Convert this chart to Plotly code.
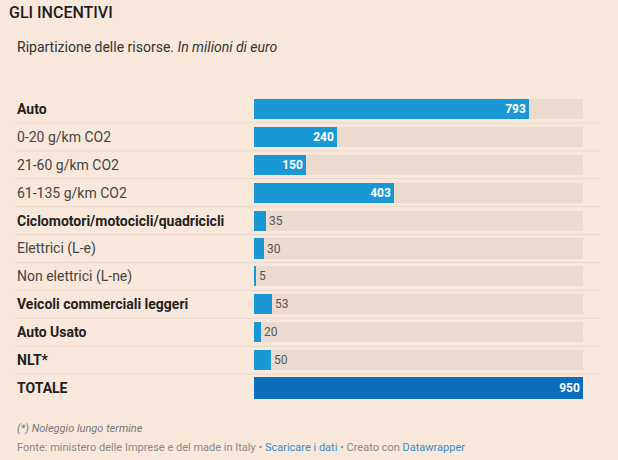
import plotly.graph_objects as go

categories = ["Auto", "0-20 g/km CO2", "21-60 g/km CO2", "61-135 g/km CO2",
              "Ciclomotori/motocicli/quadricicli", "Elettrici (L-e)", "Non elettrici (L-ne)",
              "Veicoli commerciali leggeri", "Auto Usato", "NLT*", "TOTALE"]
values = [793, 240, 150, 403, 35, 30, 5, 53, 20, 50, 950]
bold_rows = [True, False, False, False, True, False, False, True, True, True, True]
max_value = 950

BG = "#f8e8db"
TRACK = "#ebdbcf"
BLUE = "#1a98d6"
TOTAL_BLUE = "#0b6dbb"
FONT = "Roboto"

W, H = 618, 460
x0_px, x1_px = 254, 583
top_px, bot_px = 95, 402

n = len(categories)
ypos = list(range(n))

widths = [0.72] * (n - 1) + [0.8]
colors = [BLUE] * (n - 1) + [TOTAL_BLUE]

texts, textpos, tcolors = [], [], []
for v in values:
    if v >= 100:
        texts.append(f"<b>{v}</b>")
        textpos.append("inside")
        tcolors.append("white")
    else:
        texts.append(f"{v}")
        textpos.append("outside")
        tcolors.append("#555555")

fig = go.Figure()
# background tracks
fig.add_trace(go.Bar(
    y=ypos[:-1], x=[max_value] * (n - 1), orientation="h",
    marker=dict(color=TRACK, line=dict(width=0)), width=[0.72] * (n - 1),
    hoverinfo="skip", showlegend=False,
))
fig.add_trace(go.Bar(
    y=ypos, x=values, orientation="h",
    marker=dict(color=colors, line=dict(width=0)), width=widths,
    text=texts, textposition=textpos, insidetextanchor="end",
    textfont=dict(family=FONT, size=12, color=tcolors),
    cliponaxis=False, textangle=0, constraintext="none",
    showlegend=False,
))

fig.update_layout(
    width=W, height=H,
    margin=dict(l=0, r=0, t=top_px, b=H - bot_px),
    paper_bgcolor=BG, plot_bgcolor=BG,
    barmode="overlay", bargap=0,
    font=dict(family=FONT),
    xaxis=dict(domain=[x0_px / W, x1_px / W], range=[0, max_value],
               visible=False, fixedrange=True),
    yaxis=dict(range=[n - 0.5, -0.5], visible=False, fixedrange=True),
)

shapes = []
# top dark rule
shapes.append(dict(type="line", xref="paper", yref="y",
                   x0=15 / W, x1=598 / W, y0=-0.57, y1=-0.57,
                   line=dict(color="#3a2a1f", width=2)))
for i in range(n - 1):
    shapes.append(dict(type="line", xref="paper", yref="y",
                       x0=15 / W, x1=600 / W, y0=i + 0.5, y1=i + 0.5,
                       line=dict(color="#e8d8ca", width=1)))
fig.update_layout(shapes=shapes)

annotations = []
for i, (c, b) in enumerate(zip(categories, bold_rows)):
    annotations.append(dict(
        x=15 / W, y=i, xref="paper", yref="y", xanchor="left", yanchor="middle",
        text=f"<b>{c}</b>" if b else c, showarrow=False,
        font=dict(family=FONT, size=14, color="#222222" if b else "#444444"),
    ))

def ptop(px):
    return 1 - (px - top_px) / (bot_px - top_px)

annotations += [
    dict(x=7 / W, y=ptop(13), xref="paper", yref="paper", xanchor="left", yanchor="middle",
         text="GLI INCENTIVI", showarrow=False,
         font=dict(family=FONT, size=16, color="#1e1e1e", weight=500)),
    dict(x=15 / W, y=ptop(47), xref="paper", yref="paper", xanchor="left", yanchor="middle",
         text="Ripartizione delle risorse. <i>In milioni di euro</i>", showarrow=False,
         font=dict(family=FONT, size=14, color="#333333")),
    dict(x=15 / W, y=ptop(428), xref="paper", yref="paper", xanchor="left", yanchor="middle",
         text="<i>(*) Noleggio lungo termine</i>", showarrow=False,
         font=dict(family=FONT, size=11, color="#777777")),
    dict(x=15 / W, y=ptop(447), xref="paper", yref="paper", xanchor="left", yanchor="middle",
         text=("Fonte: ministero delle Imprese e del made in Italy \u2022 "
               "<span style='color:#3a8cc4'>Scaricare i dati</span> \u2022 Creato con "
               "<span style='color:#3a8cc4'>Datawrapper</span>"),
         showarrow=False, font=dict(family=FONT, size=11, color="#888888")),
]
fig.update_layout(annotations=annotations)

fig.write_html("out.html",
               config={"displayModeBar": False},
               post_script="document.body.style.margin='0';document.body.style.padding='0';"
                           "document.body.style.overflow='hidden';")
